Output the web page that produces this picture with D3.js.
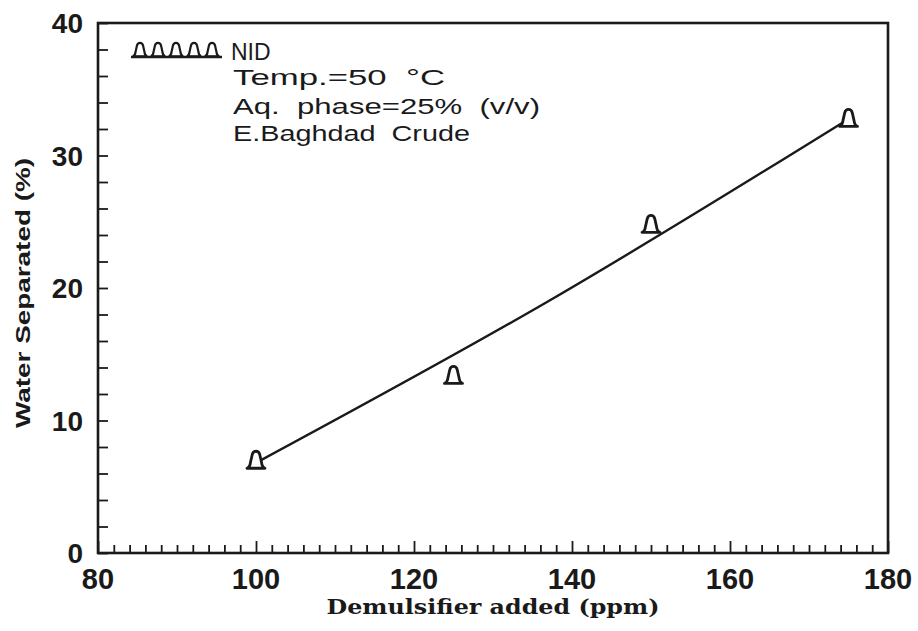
<!DOCTYPE html>
<html>
<head>
<meta charset="utf-8">
<script src="https://cdn.jsdelivr.net/npm/d3@7"></script>
<style>
  html, body { margin: 0; padding: 0; background: #fff; }
  svg { display: block; }
</style>
</head>
<body>
<svg id="chart" width="918" height="631"></svg>
<script>
// Demulsifier dose vs. water separated (NID, 50 °C, 25% aqueous phase)
const doseValues = [100, 125, 150, 175];          // ppm
const waterSeparated = [7.0, 13.4, 24.8, 32.8];   // %

// Fitted trend line: start, middle and end of the smooth fit
const fitDose = [100, 137, 174.3];
const fitWater = [6.8, 19.0, 32.5];

const xTickLabels = ["80", "100", "120", "140", "160", "180"];
const yTickLabels = ["0", "10", "20", "30", "40"];
const legendLines = ["Temp.=50  °C", "Aq.  phase=25%  (v/v)", "E.Baghdad  Crude"];

const svg = d3.select("#chart");
const ink = "#1a1a1a";

const plotL = 98, plotR = 888, plotT = 23, plotB = 553;
const x = d3.scaleLinear().domain([80, 180]).range([plotL, plotR]);
const y = d3.scaleLinear().domain([0, 40]).range([plotB, plotT]);

// Minor ticks every 2 units, pointing into the plot
const xAxis = d3.axisBottom(x)
  .tickValues(d3.range(80, 181, 2))
  .tickSizeInner(-8).tickSizeOuter(0)
  .tickFormat("");
const gx = svg.append("g").attr("transform", `translate(0,${plotB})`).call(xAxis);
gx.selectAll(".tick line")
  .attr("stroke", ink).attr("stroke-width", 1.8)
  .attr("y2", d => (d % 20 === 0 ? -12 : -8));
gx.select(".domain").remove();

const yAxis = d3.axisLeft(y)
  .tickValues(d3.range(0, 41, 2))
  .tickSizeInner(-10).tickSizeOuter(0)
  .tickFormat("");
const gy = svg.append("g").attr("transform", `translate(${plotL},0)`).call(yAxis);
gy.selectAll(".tick line").attr("stroke", ink).attr("stroke-width", 1.8);
gy.select(".domain").remove();

// Plot frame
svg.append("rect")
  .attr("x", plotL).attr("y", plotT)
  .attr("width", plotR - plotL).attr("height", plotB - plotT)
  .attr("fill", "none").attr("stroke", ink).attr("stroke-width", 2.6);

// Tick labels
svg.append("g").selectAll("text")
  .data(xTickLabels)
  .join("text")
  .attr("x", d => x(+d))
  .attr("y", 589)
  .attr("text-anchor", "middle")
  .attr("font-family", "Liberation Sans, Arial, sans-serif")
  .attr("font-weight", "bold")
  .attr("font-size", 29)
  .attr("fill", ink)
  .text(d => d);

svg.append("g").selectAll("text")
  .data(yTickLabels)
  .join("text")
  .attr("x", 83)
  .attr("y", d => y(+d) + 10)
  .attr("text-anchor", "end")
  .attr("font-family", "Liberation Sans, Arial, sans-serif")
  .attr("font-weight", "bold")
  .attr("font-size", 28)
  .attr("fill", ink)
  .text(d => d);

// Axis titles
svg.append("text")
  .attr("x", 493).attr("y", 614)
  .attr("text-anchor", "middle")
  .attr("font-family", "DejaVu Serif, serif")
  .attr("font-weight", "bold")
  .attr("font-size", 21)
  .attr("textLength", 333).attr("lengthAdjust", "spacingAndGlyphs")
  .attr("fill", ink)
  .text("Demulsifier added (ppm)");

svg.append("text")
  .attr("transform", "translate(30,293) rotate(-90)")
  .attr("text-anchor", "middle")
  .attr("font-family", "Liberation Sans, Arial, sans-serif")
  .attr("font-weight", "bold")
  .attr("font-size", 20)
  .attr("textLength", 270).attr("lengthAdjust", "spacingAndGlyphs")
  .attr("fill", ink)
  .text("Water Separated (%)");

// Fitted line
const line = d3.line()
  .x((d, i) => x(fitDose[i]))
  .y(d => y(d))
  .curve(d3.curveNatural);
svg.append("path")
  .datum(fitWater)
  .attr("d", line)
  .attr("fill", "none")
  .attr("stroke", ink)
  .attr("stroke-width", 2.4);

// Bell-shaped triangle marker (rounded top, tapering sides, flared base)
function markerPath(s) {
  const k = v => (v * s).toFixed(2);
  return `M${k(-9)},${k(8)} L${k(9)},${k(8)} ` +
    `Q${k(6)},${k(7)} ${k(5.5)},${k(2)} ` +
    `L${k(3.8)},${k(-5.5)} Q${k(3)},${k(-9)} 0,${k(-9)} ` +
    `Q${k(-3)},${k(-9)} ${k(-3.8)},${k(-5.5)} ` +
    `L${k(-5.5)},${k(2)} Q${k(-6)},${k(7)} ${k(-9)},${k(8)} Z`;
}

svg.append("g").selectAll("path")
  .data(doseValues)
  .join("path")
  .attr("transform", (d, i) => `translate(${x(d)},${y(waterSeparated[i])})`)
  .attr("d", markerPath(1))
  .attr("fill", "#fff")
  .attr("stroke", ink)
  .attr("stroke-width", 2.8)
  .attr("stroke-linejoin", "round");

// Legend: row of markers on a baseline, then the series name and conditions
const legend = svg.append("g");
legend.selectAll("path")
  .data(d3.range(5))
  .join("path")
  .attr("transform", d => `translate(${140 + d * 18},${50})`)
  .attr("d", markerPath(0.8))
  .attr("fill", "#fff")
  .attr("stroke", ink)
  .attr("stroke-width", 2.2);
legend.append("line")
  .attr("x1", 131).attr("x2", 222)
  .attr("y1", 57).attr("y2", 57)
  .attr("stroke", ink).attr("stroke-width", 2.6);

legend.append("text")
  .attr("x", 231).attr("y", 60)
  .attr("font-family", "Liberation Sans, Arial, sans-serif")
  .attr("font-size", 23)
  .attr("fill", ink)
  .text("NID");

const legendWidths = [212, 307, 237];
legend.selectAll("text.cond")
  .data(legendLines)
  .join("text")
  .attr("class", "cond")
  .attr("x", 233)
  .attr("y", (d, i) => [85, 114, 141][i])
  .style("white-space", "pre")
  .attr("font-family", "Liberation Sans, Arial, sans-serif")
  .attr("font-size", 22)
  .attr("textLength", (d, i) => legendWidths[i])
  .attr("lengthAdjust", "spacingAndGlyphs")
  .attr("fill", ink)
  .text(d => d);
</script>
</body>
</html>
